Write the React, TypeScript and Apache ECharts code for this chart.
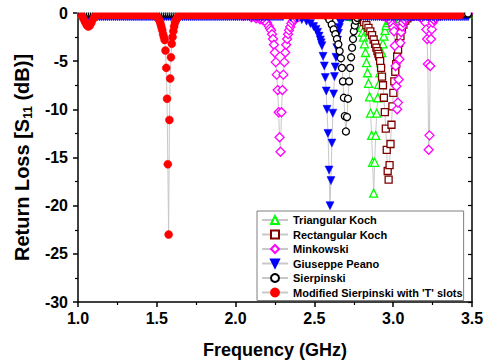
import React, { useEffect, useRef } from "react";
import * as echarts from "echarts";

// Shared sampling grid (GHz) for the flat parts of every curve
const FREQ_GRID = [
  1.025, 1.0375, 1.05, 1.0625, 1.075, 1.0875, 1.1, 1.1125, 1.125, 1.1375, 1.15, 1.1625, 1.175, 1.1875, 1.2, 1.2125,
  1.225, 1.2375, 1.25, 1.2625, 1.275, 1.2875, 1.3, 1.3125, 1.325, 1.3375, 1.35, 1.3625, 1.375, 1.3875, 1.4, 1.4125,
  1.425, 1.4375, 1.45, 1.4625, 1.475, 1.4875, 1.5, 1.5125, 1.525, 1.5375, 1.55, 1.5625, 1.575, 1.5875, 1.6, 1.6125,
  1.625, 1.6375, 1.65, 1.6625, 1.675, 1.6875, 1.7, 1.7125, 1.725, 1.7375, 1.75, 1.7625, 1.775, 1.7875, 1.8, 1.8125,
  1.825, 1.8375, 1.85, 1.8625, 1.875, 1.8875, 1.9, 1.9125, 1.925, 1.9375, 1.95, 1.9625, 1.975, 1.9875, 2.0, 2.0125,
  2.025, 2.0375, 2.05, 2.0625, 2.075, 2.0875, 2.1, 2.1125, 2.125, 2.1375, 2.15, 2.1625, 2.175, 2.1875, 2.2, 2.2125,
  2.225, 2.2375, 2.25, 2.2625, 2.275, 2.2875, 2.3, 2.3125, 2.325, 2.3375, 2.35, 2.3625, 2.375, 2.3875, 2.4, 2.4125,
  2.425, 2.4375, 2.45, 2.4625, 2.475, 2.4875, 2.5, 2.5125, 2.525, 2.5375, 2.55, 2.5625, 2.575, 2.5875, 2.6, 2.6125,
  2.625, 2.6375, 2.65, 2.6625, 2.675, 2.6875, 2.7, 2.7125, 2.725, 2.7375, 2.75, 2.7625, 2.775, 2.7875, 2.8, 2.8125,
  2.825, 2.8375, 2.85, 2.8625, 2.875, 2.8875, 2.9, 2.9125, 2.925, 2.9375, 2.95, 2.9625, 2.975, 2.9875, 3.0, 3.0125,
  3.025, 3.0375, 3.05, 3.0625, 3.075, 3.0875, 3.1, 3.1125, 3.125, 3.1375, 3.15, 3.1625, 3.175, 3.1875, 3.2, 3.2125,
  3.225, 3.2375, 3.25, 3.2625, 3.275, 3.2875, 3.3, 3.3125, 3.325, 3.3375, 3.35, 3.3625, 3.375, 3.3875, 3.4, 3.4125,
  3.425, 3.4375, 3.45, 3.4625, 3.475,
];

const SERIES_NAMES = [
  "Triangular Koch",
  "Rectangular Koch",
  "Minkowski",
  "Giuseppe Peano",
  "Sierpinski",
  "Modified Sierpinski with 'T' slots",
];

// flat level (dB) of each curve away from its resonances
const BASELINE_DB = [-0.05, -0.05, -0.05, -0.4, -0.05, -0.2];
// frequency span covered by each curve
const SPAN_GHZ = [
  [1.025, 3.475],
  [1.025, 3.475],
  [1.025, 3.475],
  [1.025, 3.475],
  [1.025, 3.475],
  [1.025, 3.425],
];

// resonance dips: [frequency GHz, S11 dB]
const TRIANGULAR_KOCH_DIPS = [
  [
    [2.7, -0.15], [2.72, -0.25], [2.733, -0.35], [2.75, -0.4], [2.765, -0.5], [2.775, -0.65], [2.785, -0.9],
    [2.792, -1.2], [2.798, -1.5], [2.805, -2.0], [2.811, -2.5], [2.8175, -3.2], [2.824, -4.1], [2.8305, -5.15],
    [2.837, -6.2], [2.8435, -7.3], [2.85, -8.7], [2.8565, -10.4], [2.863, -12.7], [2.8695, -15.5], [2.876, -18.7],
    [2.8825, -15.5], [2.889, -12.7], [2.8955, -10.4], [2.902, -8.8], [2.9085, -7.4], [2.915, -6.2], [2.9215, -5.15],
    [2.928, -4.1], [2.9345, -3.2], [2.941, -2.4], [2.948, -1.8], [2.955, -1.3], [2.962, -1.0], [2.97, -0.8],
    [2.98, -0.65], [2.995, -0.6], [3.01, -0.75], [3.02, -0.8], [3.03, -0.75], [3.045, -0.55], [3.065, -0.4],
    [3.085, -0.3], [3.11, -0.15], [3.14, -0.08],
  ],
];

const RECTANGULAR_KOCH_DIPS = [
  [
    [2.72, -0.15], [2.74, -0.25], [2.76, -0.35], [2.78, -0.5], [2.8, -0.7], [2.815, -0.95], [2.83, -1.25],
    [2.843, -1.55], [2.855, -1.9], [2.866, -2.3], [2.876, -2.75], [2.885, -3.2], [2.893, -3.6], [2.9, -3.95],
    [2.906, -4.25], [2.911, -4.5], [2.917, -5.0], [2.923, -5.7], [2.929, -6.6], [2.935, -7.5], [2.941, -8.8],
    [2.947, -10.3], [2.953, -12.0], [2.959, -14.2], [2.965, -16.4], [2.971, -17.3], [2.977, -15.8], [2.983, -13.6],
    [2.989, -11.6], [2.995, -9.7], [3.001, -8.3], [3.007, -7.1], [3.013, -6.1], [3.019, -5.3], [3.025, -4.5],
    [3.031, -3.8], [3.038, -3.1], [3.046, -2.4], [3.055, -1.7], [3.065, -1.2], [3.077, -0.8], [3.09, -0.55],
    [3.105, -0.4], [3.125, -0.3], [3.15, -0.15], [3.18, -0.08],
  ],
];

const MINKOWSKI_DIPS = [
  [
    [1.95, -0.1], [2.0, -0.2], [2.05, -0.3], [2.1, -0.45], [2.13, -0.55], [2.155, -0.65], [2.175, -0.75],
    [2.19, -0.85], [2.2, -1.05], [2.21, -1.35], [2.218, -1.6], [2.225, -1.8], [2.231, -2.2], [2.237, -2.7],
    [2.243, -3.3], [2.249, -4.1], [2.255, -5.1], [2.261, -6.4], [2.267, -8.0], [2.273, -10.3], [2.279, -12.9],
    [2.285, -14.4], [2.291, -10.3], [2.297, -8.0], [2.303, -6.4], [2.309, -5.1], [2.315, -4.1], [2.321, -3.3],
    [2.327, -2.7], [2.333, -2.2], [2.339, -1.8], [2.346, -1.45], [2.354, -1.1], [2.362, -0.85], [2.372, -0.65],
    [2.385, -0.5], [2.4, -0.4], [2.425, -0.3], [2.45, -0.2], [2.48, -0.1],
  ],
  [
    [2.9, -0.15], [2.93, -0.3], [2.95, -0.4], [2.965, -0.5], [2.978, -0.7], [2.988, -0.9], [2.995, -1.2],
    [3.0, -1.5], [3.005, -1.9], [3.01, -3.4], [3.015, -5.5], [3.02, -7.6], [3.025, -10.0], [3.03, -9.3],
    [3.035, -6.9], [3.04, -4.8], [3.045, -3.1], [3.05, -2.0], [3.056, -1.4], [3.063, -1.0], [3.072, -0.7],
    [3.085, -0.5], [3.1, -0.35], [3.12, -0.3], [3.135, -0.28], [3.15, -0.3], [3.17, -0.4], [3.185, -0.55],
    [3.195, -0.75], [3.205, -1.0], [3.21, -1.7], [3.215, -2.7], [3.22, -5.3], [3.225, -14.2], [3.23, -12.7],
    [3.235, -5.5], [3.24, -2.7], [3.245, -1.7], [3.25, -1.0], [3.258, -0.7], [3.268, -0.5], [3.285, -0.35],
    [3.3, -0.3], [3.33, -0.15], [3.36, -0.08],
  ],
];

const PEANO_DIPS = [
  [
    [2.3, -0.4], [2.35, -0.45], [2.39, -0.55], [2.42, -0.68], [2.45, -0.85], [2.475, -1.1], [2.495, -1.4],
    [2.51, -1.7], [2.52, -2.0], [2.53, -2.4], [2.538, -2.8], [2.543, -3.1], [2.548, -3.4], [2.555, -4.5],
    [2.563, -5.5], [2.569, -6.7], [2.575, -8.1], [2.58, -10.0], [2.586, -12.5], [2.593, -16.3], [2.599, -20.0],
    [2.605, -17.4], [2.611, -13.5], [2.617, -10.4], [2.622, -8.4], [2.627, -6.6], [2.632, -5.6], [2.637, -4.6],
    [2.642, -3.6], [2.647, -2.8], [2.652, -2.1], [2.658, -1.5], [2.665, -1.0], [2.673, -0.7], [2.685, -0.5],
    [2.7, -0.42],
  ],
];

const SIERPINSKI_DIPS = [
  [
    [2.54, -0.08], [2.56, -0.15], [2.58, -0.35], [2.595, -0.7], [2.61, -1.2], [2.622, -1.7], [2.633, -2.2],
    [2.643, -2.7], [2.652, -3.25], [2.66, -3.95], [2.668, -4.7], [2.675, -5.7], [2.681, -7.1], [2.687, -8.8],
    [2.693, -10.7], [2.7, -12.3], [2.707, -10.8], [2.713, -8.9], [2.72, -7.1], [2.727, -5.7], [2.733, -4.6],
    [2.739, -3.6], [2.745, -2.7], [2.75, -1.9], [2.756, -1.3], [2.763, -0.8], [2.772, -0.5], [2.785, -0.25],
    [2.8, -0.12], [2.82, -0.07],
  ],
];

const MODIFIED_SIERPINSKI_DIPS = [
  [
    [1.025, -0.3], [1.035, -0.6], [1.045, -0.95], [1.055, -1.25], [1.065, -1.4], [1.075, -1.3], [1.085, -1.0],
    [1.095, -0.65], [1.105, -0.4], [1.115, -0.25],
  ],
  [
    [1.48, -0.25], [1.49, -0.3], [1.5, -0.35], [1.505, -0.45], [1.51, -0.55], [1.515, -0.7], [1.52, -0.9],
    [1.525, -1.2], [1.53, -1.5], [1.535, -1.8], [1.54, -2.2], [1.545, -2.5], [1.55, -2.8], [1.555, -3.9],
    [1.56, -5.7], [1.565, -8.9], [1.57, -15.7], [1.575, -23.0], [1.58, -11.1], [1.585, -6.8], [1.59, -4.6],
    [1.595, -3.2], [1.6, -2.5], [1.605, -1.9], [1.61, -1.4], [1.615, -1.0], [1.62, -0.8], [1.625, -0.6],
    [1.63, -0.5], [1.64, -0.35], [1.65, -0.25], [1.665, -0.2],
  ],
];

const ALL_DIPS = [
  TRIANGULAR_KOCH_DIPS,
  RECTANGULAR_KOCH_DIPS,
  MINKOWSKI_DIPS,
  PEANO_DIPS,
  SIERPINSKI_DIPS,
  MODIFIED_SIERPINSKI_DIPS,
];

const X_MIN = 1.0;
const X_MAX = 3.5;
const Y_MIN = -30;
const Y_MAX = 0;

// styles
const COLORS = ["#00ff00", "#800000", "#ff00ff", "#0000ff", "#000000", "#ff0000"];
const SYMBOLS = ["triangle", "rect", "diamond", "triangle", "circle", "circle"];
const HOLLOW = [true, true, true, false, true, false];
const ROTATE = [0, 0, 0, 180, 0, 0];
const SIZES = [8, 7, 9, 8, 7, 8];

function buildPoints(base: number, span: number[], dips: number[][][]) {
  const pts: number[][] = [];
  for (const f of FREQ_GRID) {
    if (f < span[0] - 1e-9 || f > span[1] + 1e-9) continue;
    const inDip = dips.some((d) => f >= d[0][0] - 1e-9 && f <= d[d.length - 1][0] + 1e-9);
    if (inDip) continue;
    pts.push([f, base]);
  }
  dips.forEach((d) => d.forEach((p) => pts.push([p[0], p[1]])));
  pts.sort((a, b) => a[0] - b[0]);
  return pts;
}

export default function App() {
  const ref = useRef<HTMLDivElement>(null);

  useEffect(() => {
    if (!ref.current) return;
    const chart = echarts.init(ref.current, null, { renderer: "svg" });
    const font = "Liberation Sans, Arial, sans-serif";

    const series = SERIES_NAMES.map((name, i) => ({
      type: "line",
      name,
      data: buildPoints(BASELINE_DB[i], SPAN_GHZ[i], ALL_DIPS[i]),
      symbol: SYMBOLS[i],
      symbolSize: SIZES[i],
      symbolRotate: ROTATE[i],
      showSymbol: true,
      showAllSymbol: true,
      clip: false,
      silent: true,
      itemStyle: HOLLOW[i]
        ? { color: "#ffffff", borderColor: COLORS[i], borderWidth: 1.3 }
        : { color: COLORS[i], borderColor: COLORS[i], borderWidth: 0.5 },
      lineStyle: { color: "#c8c8c8", width: 1 },
      emphasis: { disabled: true },
    }));

    chart.setOption({
      animation: false,
      textStyle: { fontFamily: font },
      grid: { left: 78, right: 18, top: 13, bottom: 61, containLabel: false },
      legend: {
        orient: "vertical",
        left: 257,
        top: 211,
        itemWidth: 26,
        itemHeight: 10,
        itemGap: 2.5,
        padding: [3, 1, 2, 4],
        borderColor: "#7f7f7f",
        borderWidth: 1,
        borderRadius: 0,
        backgroundColor: "#ffffff",
        selectedMode: false,
        textStyle: { fontFamily: font, fontWeight: "bold", fontSize: 11, color: "#000", lineHeight: 12 },
        data: SERIES_NAMES,
      },
      xAxis: {
        type: "value",
        min: X_MIN,
        max: X_MAX,
        interval: 0.5,
        name: "Frequency (GHz)",
        nameLocation: "middle",
        nameGap: 39,
        nameTextStyle: { fontFamily: font, fontWeight: "bold", fontSize: 18, color: "#000" },
        axisLine: { onZero: false, lineStyle: { color: "#000", width: 1.5 } },
        axisTick: { show: true, length: 5, lineStyle: { color: "#000", width: 1.5 } },
        minorTick: { show: true, splitNumber: 2, length: 3, lineStyle: { color: "#000", width: 1.2 } },
        splitLine: { show: false },
        axisLabel: {
          margin: 8,
          color: "#000",
          fontFamily: font,
          fontWeight: "bold",
          fontSize: 16,
          formatter: (v: number) => v.toFixed(1),
        },
      },
      yAxis: [
        {
          type: "value",
          min: Y_MIN,
          max: Y_MAX,
          interval: 5,
          name: "Return Loss [S{sub|11} (dB)]",
          nameLocation: "middle",
          nameRotate: 90,
          nameGap: 40,
          nameTextStyle: {
            fontFamily: font,
            fontWeight: "bold",
            fontSize: 20,
            color: "#000",
            lineHeight: 24,
            rich: {
              sub: { fontFamily: font, fontWeight: "bold", fontSize: 12, color: "#000", verticalAlign: "bottom", lineHeight: 15 },
            },
          },
          axisLine: { show: true, onZero: false, lineStyle: { color: "#000", width: 1.5 } },
          axisTick: { show: true, length: 5, lineStyle: { color: "#000", width: 1.5 } },
          minorTick: { show: true, splitNumber: 2, length: 3, lineStyle: { color: "#000", width: 1.2 } },
          splitLine: { show: false },
          axisLabel: { margin: 10, color: "#000", fontFamily: font, fontWeight: "bold", fontSize: 16 },
        },
        {
          type: "value",
          position: "right",
          min: Y_MIN,
          max: Y_MAX,
          interval: 5,
          axisLine: { show: true, onZero: false, lineStyle: { color: "#000", width: 1.5 } },
          axisTick: { show: true, inside: true, length: 4, lineStyle: { color: "#000", width: 1.2 } },
          minorTick: { show: true, splitNumber: 2, length: 4, lineStyle: { color: "#000", width: 1.2 } },
          splitLine: { show: false },
          axisLabel: { show: false },
        },
      ],
      graphic: [
        {
          type: "rect",
          z: 100,
          silent: true,
          shape: { x: 77, y: 0, width: 400, height: 12.5 },
          style: { fill: "#ffffff" },
        },
      ],
      series,
    });

    return () => chart.dispose();
  }, []);

  return (
    <div
      ref={ref}
      style={{ position: "fixed", left: 0, top: 0, width: 490, height: 364, background: "#fff" }}
    />
  );
}
